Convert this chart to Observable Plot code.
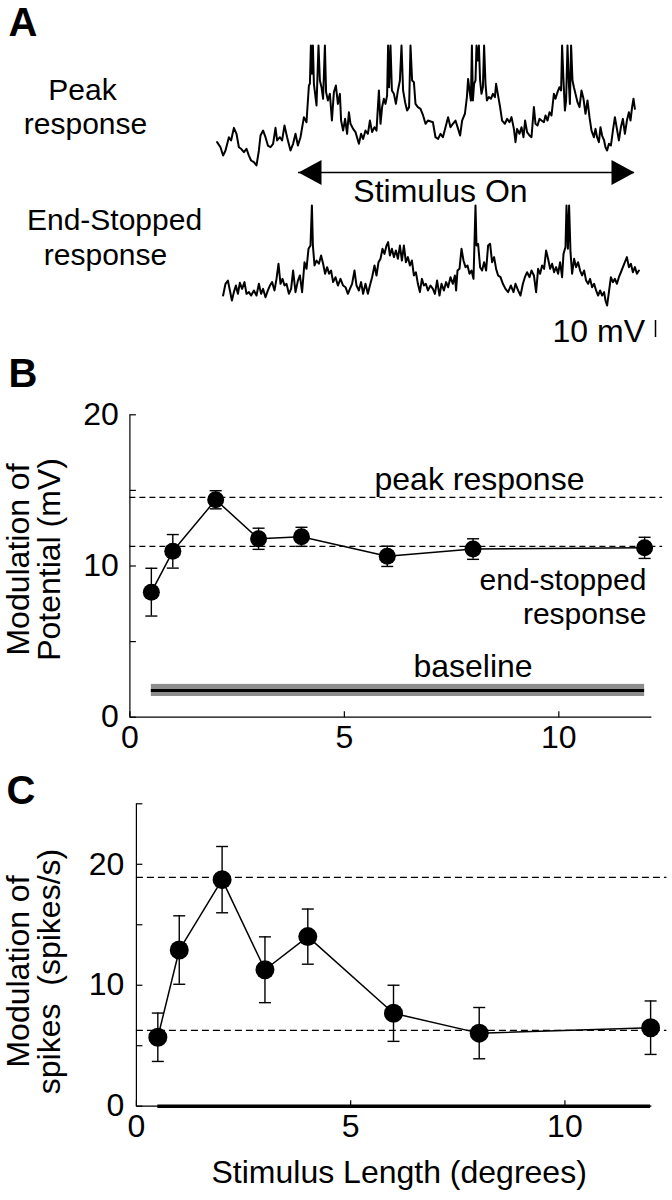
<!DOCTYPE html>
<html><head><meta charset="utf-8">
<script src="https://cdn.jsdelivr.net/npm/d3@7"></script>
<script src="https://cdn.jsdelivr.net/npm/@observablehq/plot@0.6"></script>
<style>
body{margin:0;background:#fff;}
#fig{position:relative;width:672px;height:1200px;background:#fff;}
#fig svg{position:absolute;left:0;overflow:visible;background:transparent;}
</style></head><body><div id="fig"></div>
<script>
// ---------------- DATA ----------------
// Panel A: membrane potential traces, [time (s), potential (mV, relative)]
const peakTrace = [[.033,10.8],[.050,7.8],[.063,2.9],[.075,5.9],[.092,13.7],[.103,11.8],[.117,19.2],[.130,15.7],[.142,7.8],[.153,6.9],[.167,4.9],[.180,6.9],[.192,2.9],[.203,0],[.217,-1.0],[.230,-2.9],[.242,5.9],[.250,14.7],[.263,17.6],[.275,13.7],[.287,8.8],[.300,7.8],[.313,9.8],[.325,19.2],[.333,11.8],[.347,13.7],[.358,11.8],[.370,20.6],[.383,13.7],[.400,5.9],[.413,9.8],[.425,15.7],[.437,8.8],[.450,13.7],[.467,25.5],[.480,22.5],[.492,44.1],[.497,45.1],[.502,67.6],[.507,51.0],[.512,67.6],[.517,45.1],[.530,32.4],[.540,67.6],[.547,47.1],[.555,43.1],[.563,36.3],[.572,67.6],[.578,40.2],[.587,35.3],[.597,39.2],[.607,23.5],[.617,40.2],[.627,44.1],[.637,33.3],[.647,39.2],[.653,23.5],[.663,17.6],[.673,24.5],[.683,15.7],[.692,28.4],[.700,21.6],[.713,18.6],[.725,16.7],[.742,9.8],[.753,15.7],[.763,12.7],[.775,17.6],[.787,15.7],[.797,23.5],[.808,16.7],[.820,19.6],[.830,17.6],[.842,41.2],[.850,21.6],[.858,31.4],[.867,36.3],[.875,33.3],[.883,38.2],[.888,67.6],[.893,43.1],[.900,67.6],[.907,41.2],[.917,39.2],[.927,33.3],[.937,41.2],[.947,47.1],[.955,67.6],[.963,41.2],[.973,34.3],[.983,29.4],[.993,31.4],[1.000,67.6],[1.008,47.1],[1.017,46.1],[1.025,33.3],[1.037,31.4],[1.050,30.4],[1.063,26.5],[1.075,21.6],[1.087,23.5],
[1.112,22.5],[1.125,13.7],[1.138,12.7],[1.150,15.7],[1.162,13.7],[1.175,19.6],[1.188,25.5],[1.200,19.6],[1.212,21.6],[1.225,23.5],[1.238,18.6],[1.248,14.7],[1.258,23.5],[1.272,27.5],[1.282,37.3],[1.288,48.0],[1.295,41.2],[1.302,35.3],[1.307,67.6],[1.312,35.3],[1.318,45.1],[1.325,47.1],[1.330,67.6],[1.335,58.8],[1.342,67.6],[1.348,47.1],[1.355,39.2],[1.362,43.1],[1.368,67.6],[1.375,45.1],[1.382,35.3],[1.392,37.3],[1.402,36.3],[1.412,39.2],[1.422,37.3],[1.428,45.1],[1.438,38.2],[1.448,31.4],[1.458,23.5],[1.472,21.6],[1.483,24.5],[1.495,22.5],[1.505,25.5],[1.517,18.6],[1.525,10.8],[1.533,18.6],[1.545,15.7],[1.555,19.6],[1.565,13.7],[1.573,23.5],[1.583,16.7],[1.595,14.7],[1.605,13.7],[1.617,31.4],[1.625,21.6],[1.635,20.6],[1.645,24.5],[1.655,23.5],[1.667,22.5],[1.675,26.5],[1.685,23.5],[1.695,28.4],[1.705,26.5],[1.717,39.2],[1.725,36.3],[1.735,40.2],[1.745,43.1],[1.753,41.2],[1.758,67.6],[1.765,47.1],[1.772,29.4],[1.778,35.3],[1.785,67.6],[1.792,45.1],[1.797,33.3],[1.803,67.6],[1.810,47.1],[1.817,43.1],[1.825,39.2],[1.835,34.3],[1.845,31.4],[1.855,41.2],[1.865,36.3],[1.875,27.5],[1.885,35.3],[1.895,25.5],[1.905,17.6],[1.917,13.7],[1.925,18.6],[1.933,13.7],[1.942,10.8],[1.950,19.6],[1.958,14.7],[1.968,11.8],[1.975,7.8],[1.983,5.9],[1.992,9.8],[2.002,8.8],[2.012,17.6],[2.022,25.5],[2.032,18.6],[2.042,11.8],[2.052,19.6],[2.062,24.5],[2.072,15.7],[2.082,23.5],[2.092,28.4],[2.100,23.5],[2.108,31.4],[2.115,36.3],[2.122,30.4]];
const endStoppedTrace = [[.063,8.8],[.075,15.7],[.087,17.6],[.097,11.8],[.107,5.9],[.117,10.8],[.127,14.7],[.137,9.8],[.147,16.3],[.158,12.7],[.170,16.7],[.180,9.8],[.192,10.8],[.203,8.8],[.217,11.8],[.230,8.8],[.242,15.7],[.253,9.8],[.263,12.7],[.275,7.8],[.287,11.8],[.297,14.7],[.308,16.7],[.320,11.8],[.330,18.6],[.340,27.5],[.350,15.7],[.360,18.6],[.370,14.7],[.380,15.7],[.392,9.8],[.403,12.7],[.413,23.5],[.425,10.8],[.437,17.6],[.447,20.6],[.458,10.8],[.470,28.4],[.480,24.5],[.490,36.3],[.500,38.2],[.507,61.8],[.512,38.2],[.520,26.5],[.530,29.4],[.542,27.5],[.553,32.4],[.563,27.5],[.573,21.6],[.583,25.5],[.593,21.6],[.603,23.5],[.613,16.7],[.625,19.6],[.637,14.7],[.650,18.6],[.663,14.7],[.675,13.7],[.687,9.8],[.697,12.7],[.708,15.7],[.720,23.5],[.730,14.7],[.742,11.8],[.753,16.7],[.763,9.8],[.775,15.7],[.787,9.8],[.797,14.7],[.808,19.6],[.820,26.5],[.830,20.6],[.840,28.4],[.850,30.4],[.860,36.3],[.870,33.3],[.880,38.2],[.888,40.2],[.897,32.4],[.907,36.3],[.917,31.4],[.927,35.3],[.937,30.4],[.947,38.2],[.957,29.4],[.967,38.2],[.977,28.4],[.987,31.4],[.997,26.5],[1.007,29.4],[1.017,20.6],[1.027,22.5],[1.037,15.7],[1.047,10.8],[1.057,18.6],[1.067,14.7],[1.077,15.7],[1.087,11.8],
[1.100,14.7],[1.112,12.7],[1.122,9.8],[1.133,17.6],[1.145,8.8],[1.155,15.7],[1.167,11.8],[1.178,16.7],[1.188,13.7],[1.200,19.6],[1.212,15.7],[1.222,20.6],[1.228,11.8],[1.235,23.5],[1.245,24.5],[1.255,36.3],[1.265,29.4],[1.275,25.5],[1.285,26.5],[1.295,21.6],[1.305,23.5],[1.315,18.6],[1.325,61.8],[1.330,38.2],[1.338,39.2],[1.348,25.5],[1.358,23.5],[1.368,28.4],[1.378,23.5],[1.388,38.2],[1.398,39.2],[1.408,28.4],[1.418,31.4],[1.428,24.5],[1.438,20.6],[1.450,19.6],[1.462,15.7],[1.475,12.7],[1.488,10.8],[1.502,14.7],[1.515,10.8],[1.525,15.7],[1.538,11.8],[1.550,8.8],[1.562,15.7],[1.572,19.6],[1.583,22.5],[1.595,19.6],[1.605,23.5],[1.617,20.6],[1.628,10.8],[1.638,24.5],[1.648,21.6],[1.658,26.5],[1.668,24.5],[1.678,35.3],[1.688,30.4],[1.698,24.5],[1.708,27.5],[1.718,22.5],[1.728,25.5],[1.738,21.6],[1.748,28.4],[1.758,19.6],[1.765,33.3],[1.775,37.3],[1.780,61.8],[1.787,36.3],[1.793,61.8],[1.800,34.3],[1.808,21.6],[1.818,30.4],[1.828,25.5],[1.838,28.4],[1.848,23.5],[1.858,20.6],[1.868,23.5],[1.878,17.6],[1.888,15.7],[1.898,18.6],[1.908,13.7],[1.918,15.7],[1.928,11.8],[1.938,8.8],[1.948,11.8],[1.958,8.8],[1.968,10.8],[1.975,5.9],[1.983,2.9],[1.992,10.8],[2.002,19.6],[2.012,16.7],[2.022,18.6],[2.032,15.7],[2.042,19.6],[2.052,22.5],[2.062,25.5],[2.072,28.4],[2.082,31.4],[2.092,25.5],[2.102,27.5],[2.112,22.5],[2.122,25.5],[2.132,21.6],[2.142,23.5]];
const stimulusOn = [0.44, 2.12];     // seconds
const scaleBarMv = 10;

// Panels B & C: stimulus length (degrees)
const stimLength = [0.5, 1, 2, 3, 4, 6, 8, 12];
// B: modulation of potential (mV)
const potentialMod = [8.27, 10.97, 14.38, 11.8, 11.93, 10.64, 11.12, 11.2];
const potentialSem = [1.58, 1.11, 0.6, 0.7, 0.63, 0.67, 0.68, 0.7];
const potentialPeak = 14.54;
const potentialEndStopped = 11.3;
const potentialBaseline = 1.77;
const potentialBaselineSem = 0.4;
// C: modulation of spikes (spikes/s)
const spikeMod = [5.7, 12.91, 18.73, 11.28, 14.02, 7.68, 6.04, 6.49];
const spikeSem = [2.0, 2.83, 2.74, 2.72, 2.28, 2.32, 2.12, 2.21];
const spikePeak = 18.92;
const spikeEndStopped = 6.27;
const spikeBaseline = 0;

const xTicks = [0, 5, 10];
const yTicksB = [0, 10, 20], yMinorB = [0, 5, 10, 15, 20];
const yTicksC = [0, 10, 20], yMinorC = [0, 5, 10, 15, 20, 25];

// ---------------- STYLE / LAYOUT ----------------
const FONT = '"Liberation Sans", Arial, Helvetica, sans-serif';
const FS = 32, FS2 = 30;
const W = 672;
const fig = document.getElementById("fig");
const sym = f => ({draw(ctx) { f(ctx); }});
const capSym = sym(c => { c.moveTo(-6, 0); c.lineTo(6, 0); });
const tickRight = sym(c => { c.moveTo(0, 0); c.lineTo(6, 0); });
const tickUp = sym(c => { c.moveTo(0, 0); c.lineTo(0, -6); });
const headLeft = sym(c => { c.moveTo(0, 0); c.lineTo(23, -12.5); c.lineTo(23, 12.5); c.closePath(); });
const headRight = sym(c => { c.moveTo(0, 0); c.lineTo(-23, -12.5); c.lineTo(-23, 12.5); c.closePath(); });

function place(svg, top) { svg.style.top = top + "px"; fig.appendChild(svg); }
function lbl(text, x, y, o = {}) {
  return Plot.text([text], {text: d => d, frameAnchor: "top-left", dx: x, dy: y,
    lineAnchor: "bottom", textAnchor: "middle", fontSize: FS, fill: "black", ...o});
}

// ---------------- PANEL A ----------------
{
  const H = 350, pxPerS = 200, x0 = 210, y0 = 160, pxPerMv = 1.7, traceGap = 150;
  const arrowDy = 12;
  const svg = Plot.plot({
    width: W, height: H, margin: 0,
    x: {domain: [-x0 / pxPerS, (W - x0) / pxPerS], range: [0, W], axis: null},
    y: {domain: [(y0 - H) / pxPerMv, y0 / pxPerMv], range: [H, 0], axis: null},
    style: {fontFamily: FONT, color: "black", overflow: "visible"},
    marks: [
      Plot.line(peakTrace, {x: d => d[0], y: d => d[1], stroke: "black", strokeWidth: 2}),
      Plot.line(endStoppedTrace, {x: d => d[0], y: d => d[1], dy: traceGap, stroke: "black", strokeWidth: 2}),
      Plot.ruleY([0], {x1: stimulusOn[0], x2: stimulusOn[1], dy: arrowDy, stroke: "black", strokeWidth: 1.6}),
      Plot.dot([stimulusOn[0]], {x: d => d, y: () => 0, dy: arrowDy, symbol: headLeft, fill: "black", stroke: "none"}),
      Plot.dot([stimulusOn[1]], {x: d => d, y: () => 0, dy: arrowDy, symbol: headRight, fill: "black", stroke: "none"}),
      Plot.ruleX([(655 - x0) / pxPerS], {y1: (y0 - 320) / pxPerMv, y2: (y0 - 320) / pxPerMv - scaleBarMv, stroke: "black", strokeWidth: 1.5}),
      lbl("A", 8, 35, {textAnchor: "start", fontSize: 40, fontWeight: "bold"}),
      lbl("Peak", 82, 99, {fontSize: FS2}),
      lbl("response", 85, 133, {fontSize: FS2}),
      lbl("End-Stopped", 114, 229, {fontSize: FS2}),
      lbl("response", 105, 264, {fontSize: FS2}),
      lbl("Stimulus On", 440, 201),
      lbl("10 mV", 552, 341, {textAnchor: "start"})
    ]
  });
  place(svg, 0);
}

// ---------------- PANEL B ----------------
{
  const data = stimLength.map((x, i) => ({x, y: potentialMod[i], e: potentialSem[i]}));
  const svg = Plot.plot({
    width: W, height: 420,
    marginLeft: 129.4, marginRight: 20.6, marginTop: 64.3, marginBottom: 53.3,
    x: {domain: [0, 12.17]}, y: {domain: [0, 20]},
    style: {fontFamily: FONT, fontSize: FS + "px", color: "black", overflow: "visible"},
    marks: [
      Plot.rect([0], {x1: 0.5, x2: 12, y1: potentialBaseline - potentialBaselineSem, y2: potentialBaseline + potentialBaselineSem, fill: "#8c8c8c"}),
      Plot.ruleY([potentialBaseline], {x1: 0.5, x2: 12, stroke: "black", strokeWidth: 3}),
      Plot.ruleY([potentialPeak, potentialEndStopped], {x1: 0, x2: 12.42, stroke: "black", strokeWidth: 1.2, strokeDasharray: "6,4"}),
      Plot.ruleX(data, {x: "x", y1: d => d.y - d.e, y2: d => d.y + d.e, stroke: "black", strokeWidth: 1.4}),
      Plot.dot(data, {x: "x", y: d => d.y - d.e, symbol: capSym, stroke: "black", fill: "none", strokeWidth: 1.4}),
      Plot.dot(data, {x: "x", y: d => d.y + d.e, symbol: capSym, stroke: "black", fill: "none", strokeWidth: 1.4}),
      Plot.line(data, {x: "x", y: "y", stroke: "black", strokeWidth: 1.5}),
      Plot.dot(data, {x: "x", y: "y", r: 8.5, fill: "black", stroke: "none"}),
      Plot.ruleX([0], {stroke: "black", strokeWidth: 1.2}),
      Plot.ruleY([0], {stroke: "black", strokeWidth: 1.2}),
      Plot.dot(yMinorB, {frameAnchor: "left", y: d => d, symbol: tickRight, stroke: "black", fill: "none", strokeWidth: 1.2}),
      Plot.dot(xTicks, {frameAnchor: "bottom", x: d => d, symbol: tickUp, stroke: "black", fill: "none", strokeWidth: 1.2}),
      Plot.axisX({ticks: xTicks, tickSize: 0, tickPadding: 8, label: null, tickFormat: d => String(d)}),
      Plot.axisY({ticks: yTicksB, tickSize: 0, tickPadding: 11, label: null, tickFormat: d => String(d)}),
      Plot.text(["peak response"], {text: d => d, x: 8.15, y: potentialPeak, dy: -7, lineAnchor: "bottom", textAnchor: "middle", fontSize: FS}),
      Plot.text(["end-stopped\nresponse"], {text: d => d, x: 12.04, y: potentialEndStopped, dy: 20, lineAnchor: "top", textAnchor: "end", lineHeight: 1.13, fontSize: FS2}),
      Plot.text(["baseline"], {text: d => d, x: 8.0, y: potentialBaseline + potentialBaselineSem, dy: -7, lineAnchor: "bottom", textAnchor: "middle", fontSize: FS}),
      Plot.text(["Modulation of\nPotential (mV)"], {text: d => d, frameAnchor: "left", rotate: -90, dx: -123, dy: -6.5, lineAnchor: "top", textAnchor: "middle", lineHeight: 0.97, fontSize: FS}),
      Plot.text(["B"], {text: d => d, frameAnchor: "top-left", dx: -121.4, dy: -28.3, lineAnchor: "bottom", textAnchor: "start", fontSize: 40, fontWeight: "bold"})
    ]
  });
  place(svg, 350);
}

// ---------------- PANEL C ----------------
{
  const data = stimLength.map((x, i) => ({x, y: spikeMod[i], e: spikeSem[i]}));
  const svg = Plot.plot({
    width: W, height: 430,
    marginLeft: 135.9, marginRight: 20.6, marginTop: 33.3, marginBottom: 94.3,
    x: {domain: [0, 12.03]}, y: {domain: [0, 25]},
    style: {fontFamily: FONT, fontSize: FS + "px", color: "black", overflow: "visible"},
    marks: [
      Plot.ruleY([spikeBaseline], {x1: 0.5, x2: 12, stroke: "black", strokeWidth: 3.5}),
      Plot.ruleY([spikePeak, spikeEndStopped], {x1: 0, x2: 12.38, stroke: "black", strokeWidth: 1.2, strokeDasharray: "7,4"}),
      Plot.ruleX(data, {x: "x", y1: d => d.y - d.e, y2: d => d.y + d.e, stroke: "black", strokeWidth: 1.4}),
      Plot.dot(data, {x: "x", y: d => d.y - d.e, symbol: capSym, stroke: "black", fill: "none", strokeWidth: 1.4}),
      Plot.dot(data, {x: "x", y: d => d.y + d.e, symbol: capSym, stroke: "black", fill: "none", strokeWidth: 1.4}),
      Plot.line(data, {x: "x", y: "y", stroke: "black", strokeWidth: 1.5}),
      Plot.dot(data, {x: "x", y: "y", r: 9.5, fill: "black", stroke: "none"}),
      Plot.ruleX([0], {stroke: "black", strokeWidth: 1.2}),
      Plot.ruleY([0], {stroke: "black", strokeWidth: 1.2}),
      Plot.dot(yMinorC, {frameAnchor: "left", y: d => d, symbol: tickRight, stroke: "black", fill: "none", strokeWidth: 1.2}),
      Plot.dot(xTicks, {frameAnchor: "bottom", x: d => d, symbol: tickUp, stroke: "black", fill: "none", strokeWidth: 1.2}),
      Plot.axisX({ticks: xTicks, tickSize: 0, tickPadding: 8, label: null, tickFormat: d => String(d)}),
      Plot.axisY({ticks: yTicksC, tickSize: 0, tickPadding: 12, label: null, tickFormat: d => String(d)}),
      Plot.text(["Modulation of\nspikes  (spikes/s)"], {text: d => d, frameAnchor: "left", rotate: -90, dx: -129.5, dy: 16.5, lineAnchor: "top", textAnchor: "middle", lineHeight: 0.97, fontSize: FS}),
      Plot.text(["Stimulus Length (degrees)"], {text: d => d, frameAnchor: "bottom", dx: 5, dy: 77, lineAnchor: "bottom", textAnchor: "middle", fontSize: FS}),
      Plot.text(["C"], {text: d => d, frameAnchor: "top-left", dx: -129.9, dy: -0.3, lineAnchor: "bottom", textAnchor: "start", fontSize: 40, fontWeight: "bold"})
    ]
  });
  place(svg, 770);
}
</script></body></html>
